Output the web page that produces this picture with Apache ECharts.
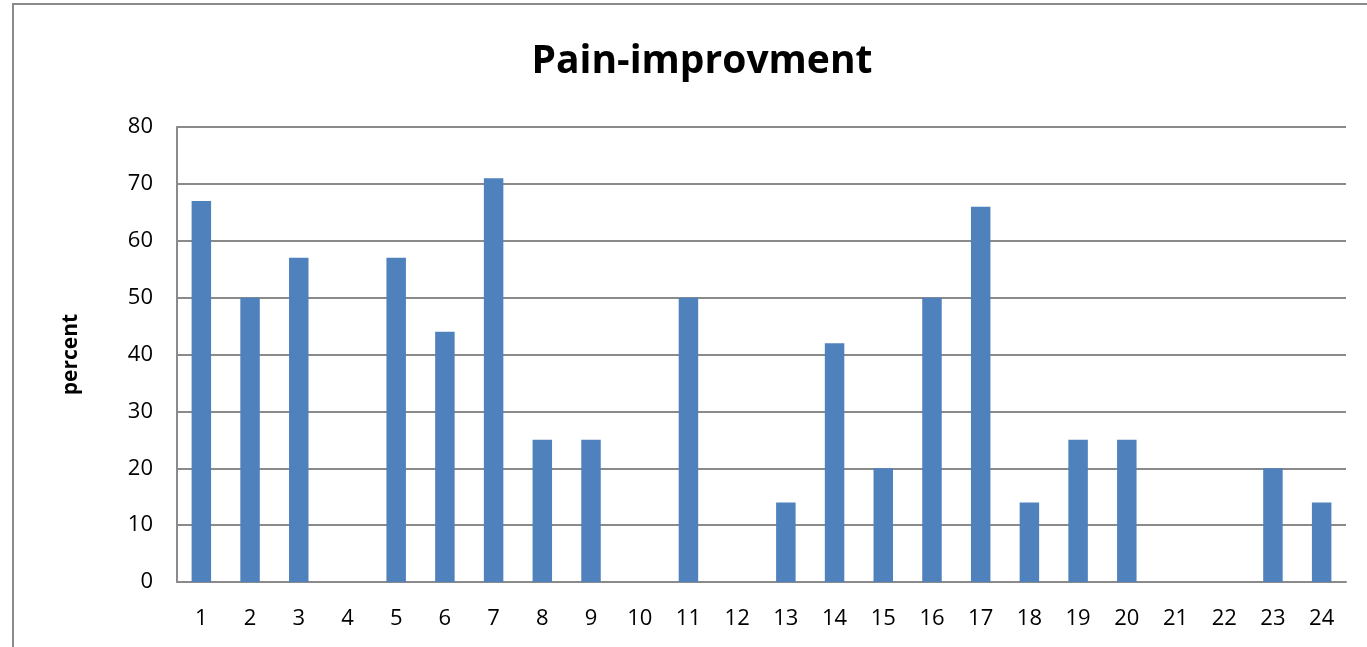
<!DOCTYPE html>
<html>
  <head>
    <meta charset="utf-8" />
    <script src="https://cdn.jsdelivr.net/npm/echarts@6.0.0/dist/echarts.min.js"></script>
    <style>
      html, body { margin: 0; padding: 0; background: #fff; }
      #main { width: 1367px; height: 647px; }
    </style>
  </head>

  <body>
    <div id="main"></div>
    <script type="text/javascript">
      // data
      var patients = ['1','2','3','4','5','6','7','8','9','10','11','12',
                      '13','14','15','16','17','18','19','20','21','22','23','24'];
      var improvement = [67, 50, 57, 0, 57, 44, 71, 25, 25, 0, 50, 0,
                         14, 42, 20, 50, 66, 14, 25, 25, 0, 0, 20, 14];
      var yTicks = { min: 0, max: 80, interval: 10 };

      var myChart = echarts.init(document.getElementById('main'));
      var font = 'Open Sans';

      var option = {
        animation: false,
        backgroundColor: '#fff',
        title: {
          text: 'Pain-improvment',
          left: 697,
          top: 37,
          textAlign: 'center',
          textStyle: { fontFamily: font, fontWeight: 'bold', fontSize: 39, color: '#000' }
        },
        graphic: [{
          type: 'rect',
          shape: { x: 13, y: 4, width: 1400, height: 700 },
          style: { fill: 'none', stroke: '#8a8a8a', lineWidth: 2 },
          silent: true
        }],
        grid: { left: 177, right: 21, top: 127, bottom: 65, containLabel: false },
        xAxis: {
          type: 'category',
          data: patients,
          axisLine: { lineStyle: { color: '#8a8a8a', width: 2 } },
          axisTick: { show: false },
          axisLabel: { color: '#000', fontFamily: font, fontSize: 22, margin: 26 }
        },
        yAxis: {
          type: 'value',
          min: yTicks.min,
          max: yTicks.max,
          interval: yTicks.interval,
          name: 'percent',
          nameLocation: 'middle',
          nameRotate: 90,
          nameGap: 95,
          nameTextStyle: { color: '#000', fontFamily: font, fontWeight: 'bold', fontSize: 21 },
          axisLine: { show: true, lineStyle: { color: '#8a8a8a', width: 2 } },
          axisTick: { show: false },
          axisLabel: { color: '#000', fontFamily: font, fontSize: 22, margin: 24, padding: [5, 0, 0, 0] },
          splitLine: { lineStyle: { color: '#8a8a8a', width: 2 } }
        },
        series: [{
          name: 'improvement',
          type: 'bar',
          data: improvement,
          barWidth: '40%',
          itemStyle: { color: '#4f81bd' }
        }]
      };

      myChart.setOption(option);
    </script>
  </body>

</html>
